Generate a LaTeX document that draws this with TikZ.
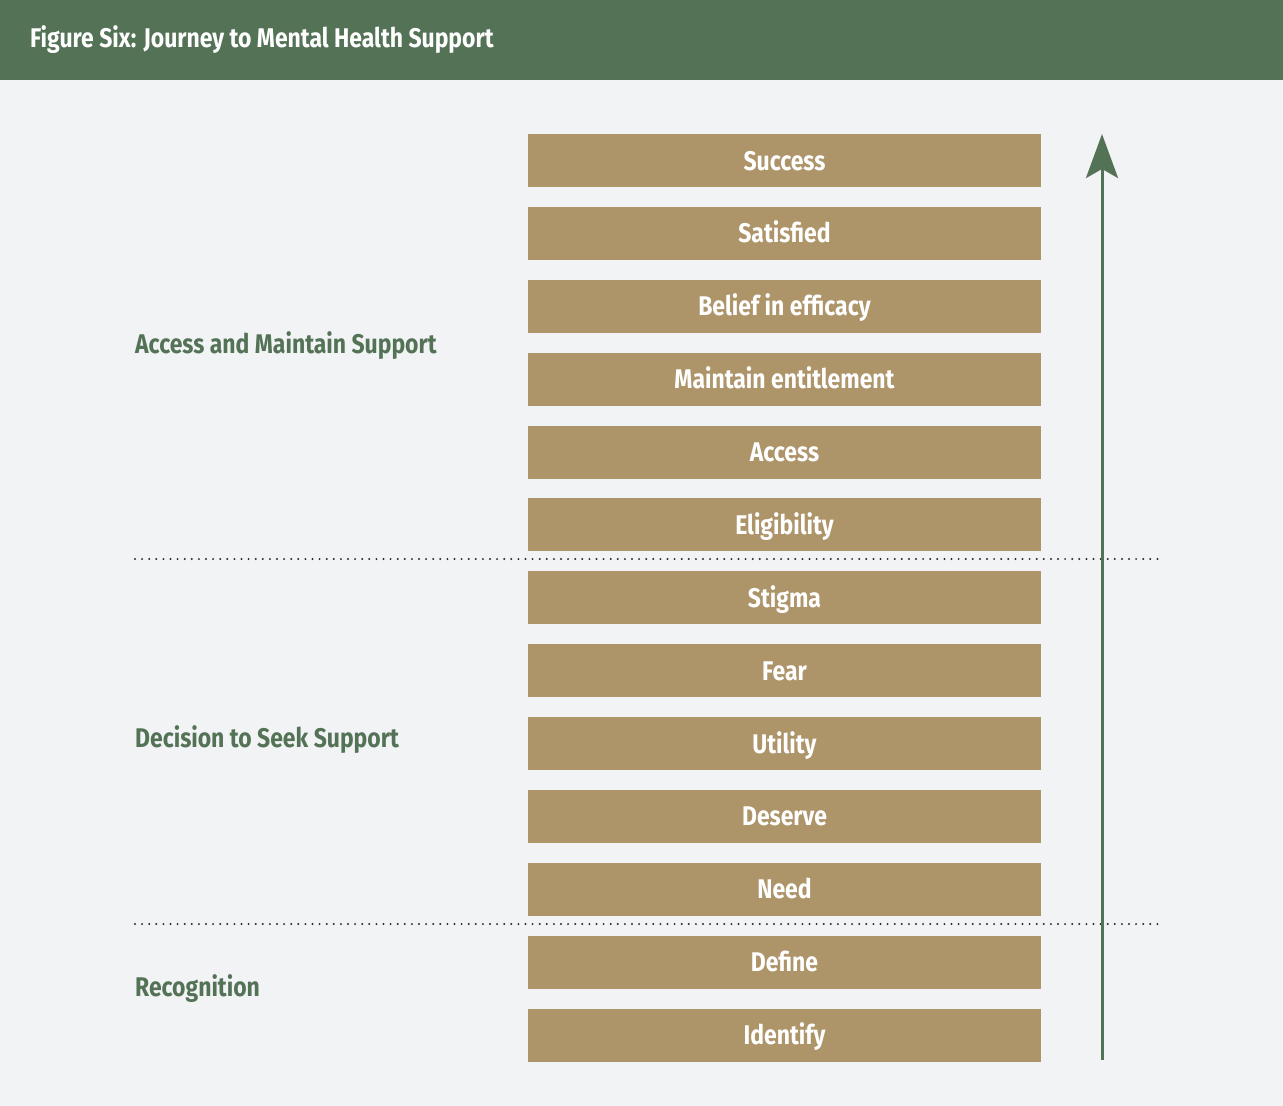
\documentclass[tikz,border=0pt]{standalone}
\usepackage{fontspec}
\setmainfont{Fira Sans}[FakeStretch=0.85]
\usetikzlibrary{arrows.meta}

\definecolor{headgreen}{HTML}{537256}
\definecolor{boxtan}{HTML}{AD9469}
\definecolor{paper}{HTML}{F1F3F5}
\definecolor{dotgray}{HTML}{2B2B2B}

\tikzstyle{stage} = [fill=boxtan, minimum width=513pt, minimum height=53pt, inner sep=0pt, text=white, text height=19pt, text depth=0pt, font=\bfseries\fontsize{27}{30}\selectfont]
\tikzstyle{phase} = [anchor=base west, inner sep=0pt, text=headgreen, font=\bfseries\fontsize{27}{30}\selectfont]
\tikzstyle{divider} = [draw, dotgray, line width=2.2pt, line cap=round, dash pattern=on 0pt off 7.1pt]
\tikzstyle{journey} = [draw, headgreen, line width=3pt, -{Stealth[length=44pt, width=32pt, inset=9pt]}]

\begin{document}
\begin{tikzpicture}[x=1pt, y=-1pt]
       \fill[paper] (0,0) rectangle (1283,1106);
       \fill[headgreen] (0,0) rectangle (1283,80);
       \node[phase, text=white] (title) at (30,47.5) {Figure Six: Journey to Mental Health Support};

       \foreach \i/\name/\txt in {0/success/Success, 1/satisfied/Satisfied, 2/belief/Belief in efficacy, 3/maintain/Maintain entitlement, 4/access/Access, 5/eligibility/Eligibility, 6/stigma/Stigma, 7/fear/Fear, 8/utility/Utility, 9/deserve/Deserve, 10/need/Need, 11/define/Define, 12/identify/Identify} {
           \node[stage] (\name) at (784.5,160.5+72.875*\i) {\txt};
       }

       \foreach \pos/\name/\txt in {{(135,353)/accesssupport/Access and Maintain Support}, {(135,747.5)/decision/Decision to Seek Support}, {(135,996.5)/recognition/Recognition}} {
           \node[phase] (\name) at \pos {\txt};
       }

       \coordinate (upper left) at (135,559);
       \coordinate (upper right) at (1158,559);
       \coordinate (lower left) at (135,924);
       \coordinate (lower right) at (1158,924);
       \path[divider] (upper left) -- (upper right);
       \path[divider] (lower left) -- (lower right);

       \coordinate (journey start) at (1102,1060);
       \coordinate (journey end) at (1102,134);
       \path[journey] (journey start) -- (journey end);
\end{tikzpicture}
\end{document}
